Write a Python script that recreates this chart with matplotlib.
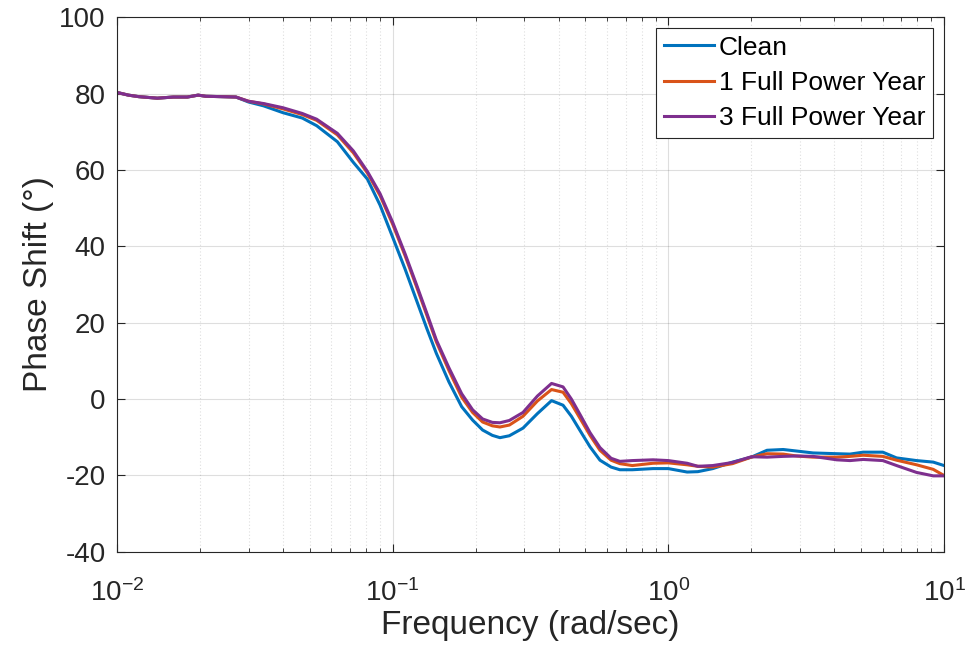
import matplotlib
matplotlib.use("Agg")
import matplotlib.pyplot as plt
from matplotlib.ticker import LogLocator, NullFormatter

plt.rcParams['font.family'] = ['Liberation Sans', 'DejaVu Sans']
plt.rcParams['mathtext.default'] = 'regular'
plt.rcParams['axes.unicode_minus'] = False

# frequency points (rad/sec)
freq = [0.010, 0.011, 0.012, 0.014, 0.016, 0.018, 0.0197, 0.021, 0.024, 0.027,
        0.030, 0.034, 0.040, 0.047, 0.053, 0.063, 0.072, 0.081, 0.090, 0.100,
        0.111, 0.122, 0.133, 0.144, 0.160, 0.178, 0.195, 0.212, 0.230, 0.245,
        0.265, 0.297, 0.335, 0.377, 0.415, 0.445, 0.478, 0.520, 0.565, 0.620,
        0.667, 0.740, 0.88, 1.0, 1.17, 1.28, 1.45, 1.71, 2.0, 2.28,
        2.61, 2.92, 3.35, 4.08, 4.56, 5.09, 6.0, 6.73, 7.95, 9.14, 10.0]

clean = [80.3, 79.6, 79.2, 78.8, 79.1, 79.1, 79.6, 79.3, 79.2, 79.1,
         77.8, 76.8, 75.0, 73.6, 71.6, 67.4, 62.0, 57.6, 50.8, 42.4,
         34.0, 25.9, 18.5, 12.0, 4.5, -2.0, -5.5, -8.1, -9.5, -10.1,
         -9.6, -7.6, -3.8, -0.4, -1.6, -4.5, -8.2, -12.5, -16.0, -17.8,
         -18.5, -18.5, -18.2, -18.2, -19.1, -19.0, -18.2, -16.5, -15.2, -13.4,
         -13.2, -13.6, -14.1, -14.3, -14.4, -13.9, -13.9, -15.4, -16.1, -16.5, -17.4]

fpy1 = [80.3, 79.6, 79.2, 78.8, 79.1, 79.1, 79.6, 79.3, 79.2, 79.1,
        78.0, 77.3, 76.0, 74.5, 73.0, 69.2, 64.5, 59.2, 53.3, 45.8,
        37.5, 29.5, 22.0, 15.0, 7.5, 0.5, -3.5, -6.0, -7.0, -7.3,
        -6.8, -4.5, -0.5, 2.5, 1.8, -1.2, -5.0, -9.5, -13.4, -16.0,
        -16.9, -17.4, -16.8, -16.7, -17.2, -17.6, -17.8, -16.9, -15.2, -14.3,
        -14.4, -14.9, -15.2, -15.2, -15.0, -14.7, -15.0, -16.0, -17.2, -18.4, -20.0]

fpy3 = [80.3, 79.6, 79.2, 78.8, 79.1, 79.1, 79.6, 79.3, 79.2, 79.1,
        78.0, 77.4, 76.3, 74.8, 73.3, 69.6, 65.0, 59.6, 53.8, 46.3,
        38.0, 30.0, 22.5, 15.5, 8.2, 1.4, -2.8, -5.2, -6.1, -6.2,
        -5.6, -3.5, 0.8, 4.1, 3.2, 0.0, -4.0, -8.8, -12.7, -15.5,
        -16.3, -16.1, -15.9, -16.1, -16.8, -17.6, -17.4, -16.6, -15.1, -15.2,
        -15.0, -14.9, -15.0, -15.9, -16.1, -15.8, -16.1, -17.4, -19.2, -20.1, -20.1]

labels = ["Clean", "1 Full Power Year", "3 Full Power Year"]
colors = ["#0072BD", "#D95319", "#7E2F8E"]

fig = plt.figure(figsize=(9.7, 6.5), dpi=100)
ax = fig.add_axes([0.1206, 0.151, 0.8526, 0.8225])

for y, lab, c in zip([clean, fpy1, fpy3], labels, colors):
    ax.plot(freq, y, color=c, linewidth=2.2, label=lab)

ax.set_xscale("log")
ax.set_xlim(1e-2, 1e1)
ax.set_ylim(-40, 100)
ax.set_yticks(range(-40, 101, 20))
ax.xaxis.set_minor_locator(LogLocator(base=10, subs=range(2, 10)))
ax.xaxis.set_minor_formatter(NullFormatter())

ax.grid(True, which="major", color="#262626", alpha=0.15, linewidth=0.8)
ax.grid(True, which="minor", axis="x", color="#262626", alpha=0.15,
        linestyle=(0, (1, 2)), linewidth=0.8)

ax.tick_params(which="both", direction="in", top=True, right=True,
               colors="#262626", labelsize=20, labelcolor="#262626")
ax.tick_params(which="major", length=6)
ax.tick_params(axis="y", which="major", pad=8)
ax.tick_params(axis="x", which="major", pad=20)
ax.tick_params(which="minor", length=3)
for s in ax.spines.values():
    s.set_color("#262626")
    s.set_linewidth(0.8)

ax.set_xlabel("Frequency (rad/sec)", fontsize=24, color="#262626", labelpad=2)
ax.set_ylabel("Phase Shift (°)", fontsize=24, color="#262626", labelpad=4)

leg = ax.legend(loc="upper right", fontsize=19, handlelength=1.9, handletextpad=0.2,
                labelspacing=0.42, borderpad=0.3, borderaxespad=0.4,
                fancybox=False, framealpha=1, edgecolor="#262626")
leg.get_frame().set_linewidth(0.8)

fig.savefig("out.png", dpi=100)
